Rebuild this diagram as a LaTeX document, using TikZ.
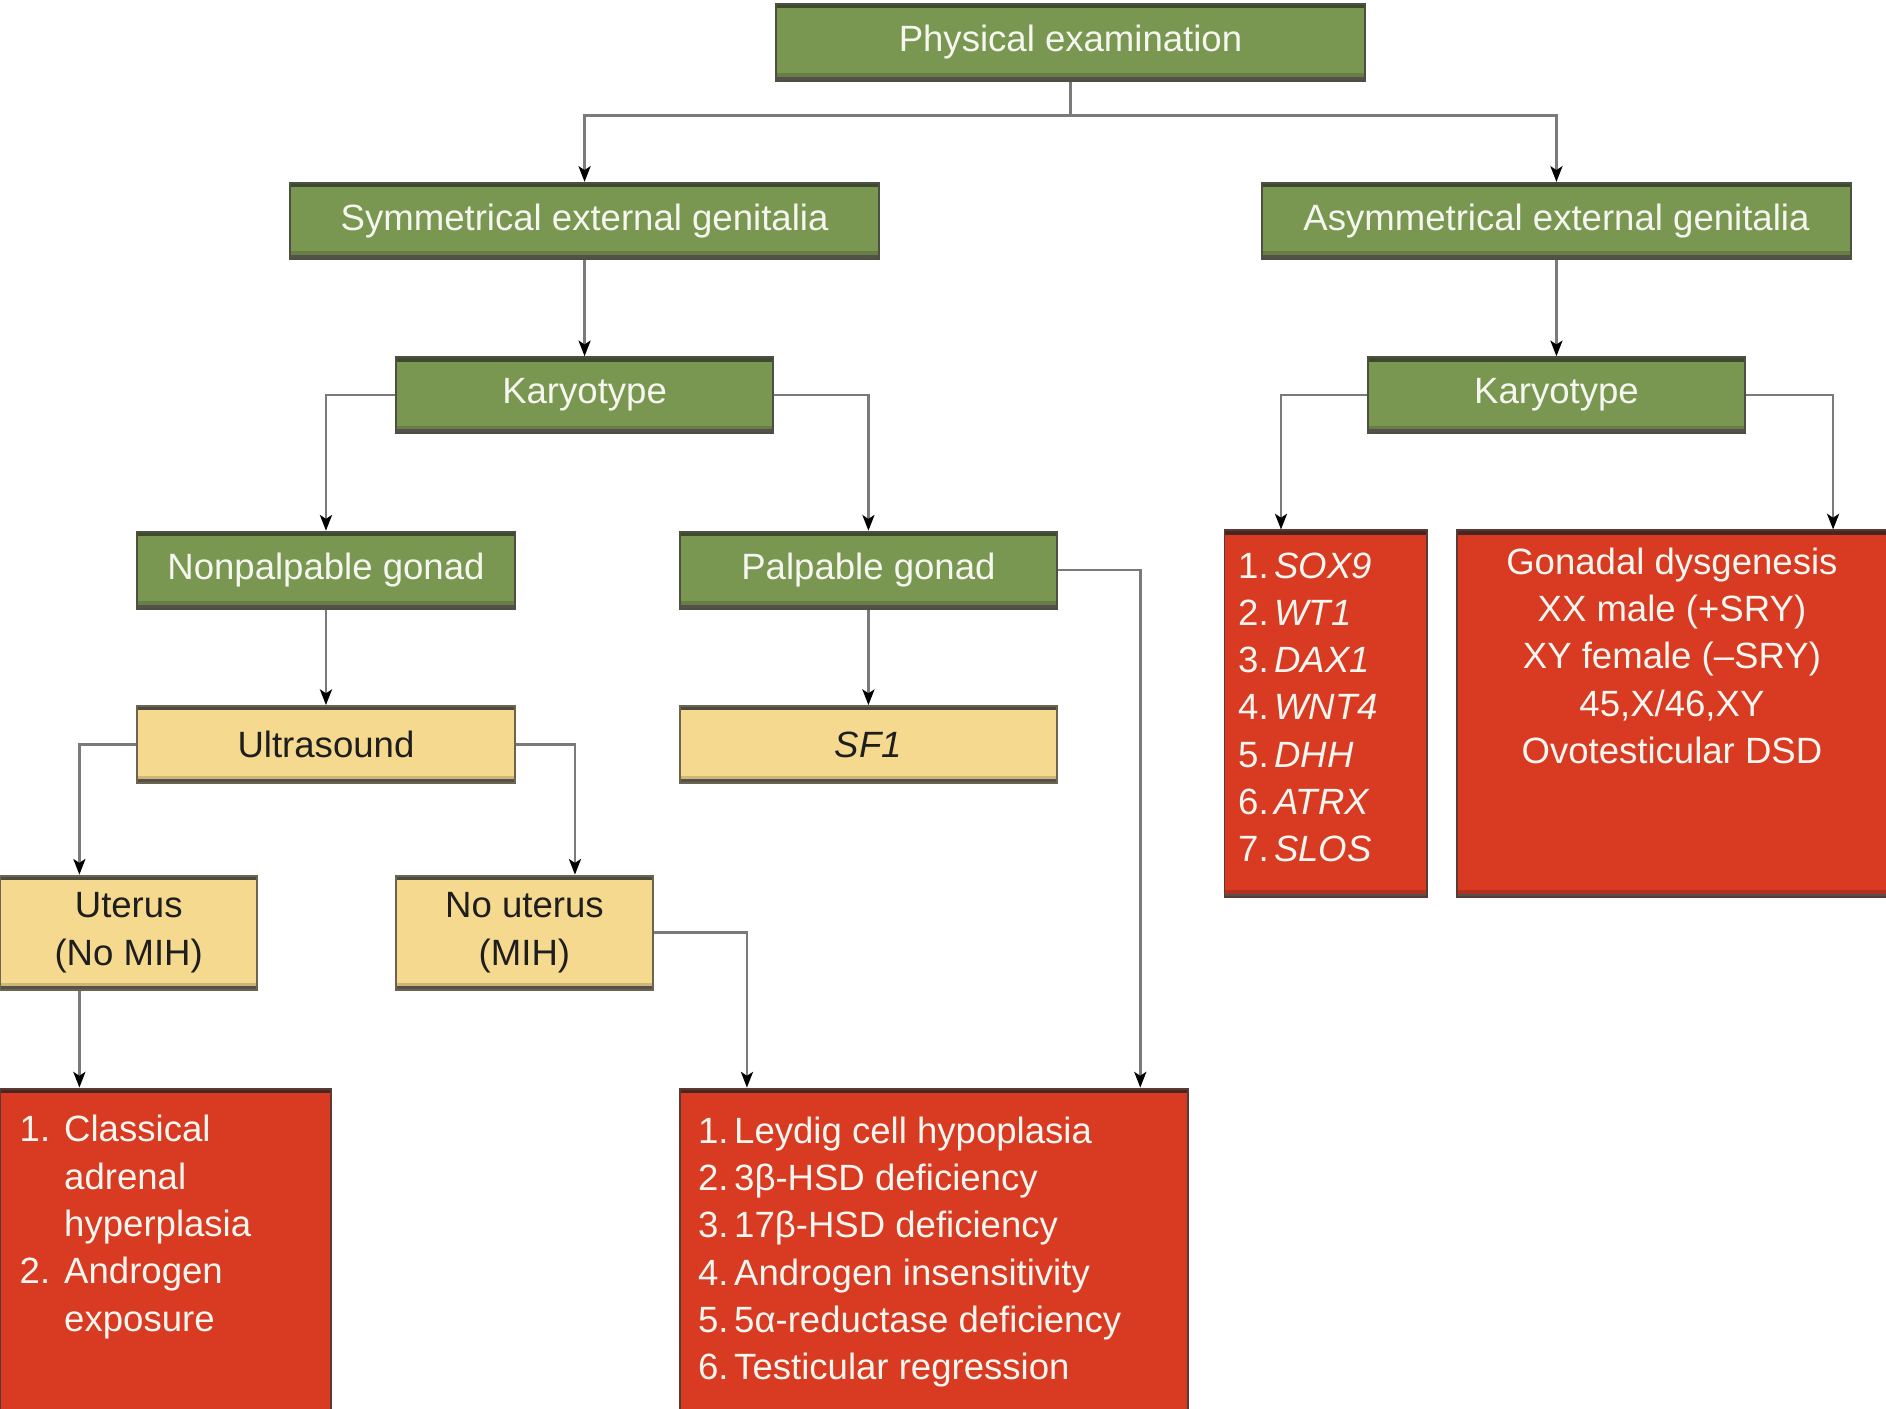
\documentclass[tikz,border=0pt]{standalone}
\usepackage{fontspec}
\setmainfont{Liberation Sans}
\usetikzlibrary{arrows.meta}

\definecolor{greenfill}{HTML}{7A9752}
\definecolor{greentop}{HTML}{3E4A2F}
\definecolor{greenside}{HTML}{4B5040}
\definecolor{yellowfill}{HTML}{F5D98E}
\definecolor{yellowtop}{HTML}{4D4A42}
\definecolor{yellowside}{HTML}{6B6550}
\definecolor{redfill}{HTML}{D83A22}
\definecolor{redtop}{HTML}{4A2622}
\definecolor{redside}{HTML}{5A3A35}
\definecolor{bottomline}{HTML}{55504C}
\definecolor{linkgray}{HTML}{7A7A7A}
\definecolor{lighttext}{HTML}{F6F6F0}
\definecolor{darktext}{HTML}{1E1E1E}

% numbered list entries: number in a fixed-width slot
\newcommand{\numitem}[2]{\makebox[15pt][l]{#1.}#2}

\tikzset{
  flowbox/.style n args={3}{
    draw=#3, line width=0.8pt, fill=#1, inner sep=0pt,
    path picture={
      \fill[#1!84!black] (path picture bounding box.south west)
        rectangle ([yshift=3pt]path picture bounding box.south east);
      \fill[bottomline] (path picture bounding box.south west)
        rectangle ([yshift=1.5pt]path picture bounding box.south east);
      \fill[#2] (path picture bounding box.north west)
        rectangle ([yshift=-1.8pt]path picture bounding box.north east);
    }},
  greenbox/.style={flowbox={greenfill}{greentop}{greenside}, text=lighttext},
  yellowbox/.style={flowbox={yellowfill}{yellowtop}{yellowside}, text=darktext},
  redbox/.style={flowbox={redfill}{redtop}{redside}},
  listtext/.style={inner sep=0pt, text=lighttext},
  conn/.style={draw=linkgray, line width=1.1pt,
    -{Stealth[length=6.5pt, width=5pt, inset=1.6pt, black]}},
}

\begin{document}
\begin{tikzpicture}[x=0.5pt, y=-0.5pt, font=\fontsize{15.2}{19.65}\selectfont]
  \useasboundingbox (0,0) rectangle (1568,1171);
  \clip (0,0) rectangle (1568,1171);

  % top level
  \node[greenbox, minimum width=245pt, minimum height=32pt] (phys) at (890,35) {Physical examination};

  % second level
  \node[greenbox, minimum width=245pt, minimum height=31.5pt] (sym) at (486,183.5) {Symmetrical external genitalia};
  \node[greenbox, minimum width=245pt, minimum height=31.5pt] (asym) at (1294,183.5) {Asymmetrical external genitalia};

  % karyotype
  \node[greenbox, minimum width=157pt, minimum height=31.5pt] (karL) at (486,328.5) {Karyotype};
  \node[greenbox, minimum width=157pt, minimum height=31.5pt] (karR) at (1294,328.5) {Karyotype};

  % gonads
  \node[greenbox, minimum width=157pt, minimum height=32pt] (nonpal) at (271,474) {Nonpalpable gonad};
  \node[greenbox, minimum width=157pt, minimum height=32pt] (palp) at (722,474) {Palpable gonad};

  % imaging / gene
  \node[yellowbox, minimum width=157pt, minimum height=32pt] (ultra) at (271,619) {Ultrasound};
  \node[yellowbox, minimum width=157pt, minimum height=32pt] (sf1) at (722,619) {\textit{SF1}};

  % uterus
  \node[yellowbox, minimum width=107pt, minimum height=47.5pt, align=center] (ut) at (107,775.5) {Uterus\\(No MIH)};
  \node[yellowbox, minimum width=107pt, minimum height=47.5pt, align=center] (nout) at (436,775.5) {No uterus\\(MIH)};

  % diagnosis boxes
  \node[redbox, minimum width=84pt, minimum height=152.5pt] (genes) at (1102,593.5) {};
  \node[redbox, minimum width=194.5pt, minimum height=152.5pt] (gon) at (1405.5,593.5) {};
  \node[redbox, minimum width=137.5pt, minimum height=147.5pt] (cah) at (137.5,1052.5) {};
  \node[redbox, minimum width=211.5pt, minimum height=147.5pt] (ley) at (776.5,1052.5) {};

  \node[listtext, anchor=north west, align=left] (genesTxt) at (1029,459)
    {\numitem{1}{\textit{SOX9}}\\\numitem{2}{\textit{WT1}}\\\numitem{3}{\textit{DAX1}}\\\numitem{4}{\textit{WNT4}}\\\numitem{5}{\textit{DHH}}\\\numitem{6}{\textit{ATRX}}\\\numitem{7}{\textit{SLOS}}};
  \node[listtext, anchor=north, align=center] (gonTxt) at (1390,455)
    {Gonadal dysgenesis\\XX male (+SRY)\\XY female (–SRY)\\45,X/46,XY\\Ovotesticular DSD};
  \node[listtext, anchor=north west, align=left] (cahTxt) at (16,927)
    {\makebox[18.5pt][l]{1.}Classical\\\hspace*{18.5pt}adrenal\\\hspace*{18.5pt}hyperplasia\\\makebox[18.5pt][l]{2.}Androgen\\\hspace*{18.5pt}exposure};
  \node[listtext, anchor=north west, align=left] (leyTxt) at (580,928)
    {\numitem{1}{Leydig cell hypoplasia}\\\numitem{2}{3β-HSD deficiency}\\\numitem{3}{17β-HSD deficiency}\\\numitem{4}{Androgen insensitivity}\\\numitem{5}{5α-reductase deficiency}\\\numitem{6}{Testicular regression}};

  % connectors
  \draw[conn] (phys.south) -- ++(0,28) -| (sym.north);
  \draw[conn] (phys.south) -- ++(0,28) -| (asym.north);
  \draw[conn] (sym.south) -- (karL.north);
  \draw[conn] (asym.south) -- (karR.north);
  \draw[conn] (karL.west) -| (nonpal.north);
  \draw[conn] (karL.east) -| (palp.north);
  \draw[conn] (karR.west) -| ([xshift=-18.5pt]genes.north);
  \draw[conn] (karR.east) -| ([xshift=59.25pt]gon.north);
  \draw[conn] (nonpal.south) -- (ultra.north);
  \draw[conn] (palp.south) -- (sf1.north);
  \draw[conn] (palp.east) -| ([xshift=85.75pt]ley.north);
  \draw[conn] (ultra.west) -| ([xshift=-20.5pt]ut.north);
  \draw[conn] (ultra.east) -| ([xshift=21pt]nout.north);
  \draw[conn] ([xshift=-20.5pt]ut.south) -- ([xshift=-20.5pt]ut.south |- cah.north);
  \draw[conn] (nout.east) -| ([xshift=-77.75pt]ley.north);
\end{tikzpicture}
\end{document}
